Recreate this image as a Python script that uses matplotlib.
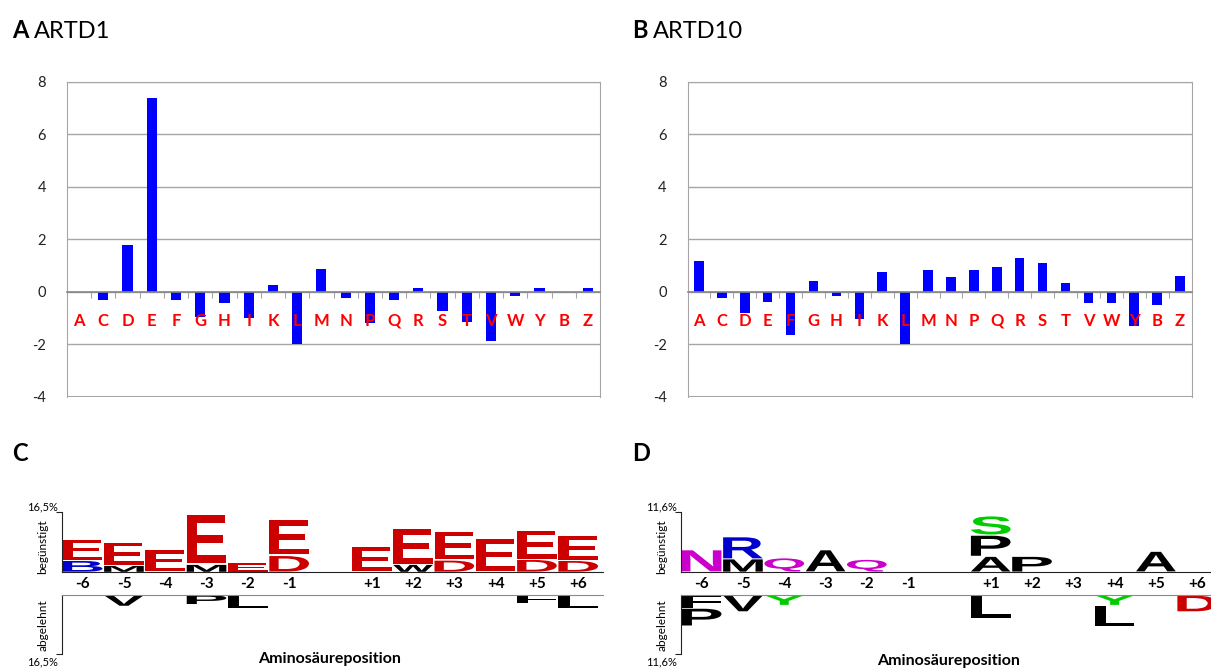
import numpy as np
import matplotlib
matplotlib.use('Agg')
import matplotlib.pyplot as plt
import matplotlib.transforms as mtransforms
from matplotlib.textpath import TextPath
from matplotlib.patches import PathPatch
from matplotlib.font_manager import FontProperties

plt.rcParams['font.family'] = ['Lato', 'DejaVu Sans']
plt.rcParams['axes.unicode_minus'] = False

# === Data ===
aa = ['A', 'C', 'D', 'E', 'F', 'G', 'H', 'I', 'K', 'L', 'M',
      'N', 'P', 'Q', 'R', 'S', 'T', 'V', 'W', 'Y', 'B', 'Z']
artd1 = [0, -0.29, 1.77, 7.37, -0.29, -0.95, -0.43, -1.0, 0.28, -2.0, 0.86,
         -0.25, -1.18, -0.29, 0.14, -0.74, -1.14, -1.87, -0.17, 0.14, 0, 0.14]
artd10 = [1.17, -0.23, -0.8, -0.38, -1.65, 0.41, -0.15, -1.03, 0.75, -2.0, 0.83,
          0.56, 0.85, 0.94, 1.28, 1.09, 0.33, -0.42, -0.42, -1.3, -0.5, 0.6]

positions = ['-6', '-5', '-4', '-3', '-2', '-1', '+1', '+2', '+3', '+4', '+5', '+6']

# logo stacks per position: (letter, height in %) from the line outwards
c_up = [[('B', 3.1), ('E', 5.9)], [('M', 1.7), ('E', 6.5)], [('E', 6.1)],
        [('M', 2.0), ('E', 14.0)], [('E', 2.5)], [('D', 4.5), ('E', 10.0)],
        [('E', 7.0)], [('W', 2.0), ('E', 10.0)], [('D', 3.2), ('E', 8.0)],
        [('E', 9.3)], [('D', 3.4), ('E', 8.1)], [('D', 3.1), ('E', 7.0)]]
c_down = [[], [('V', 3.1)], [], [('P', 2.6)], [('L', 3.7)], [],
          [], [], [], [], [('F', 2.3)], [('L', 3.7)]]
c_max = 16.5

d_up = [[('N', 4.3)], [('M', 2.5), ('R', 4.3)], [('Q', 2.7)], [('A', 4.3)],
        [('Q', 2.4)], [], [('A', 3.0), ('P', 4.1), ('S', 3.7)], [('P', 3.0)],
        [], [], [('A', 4.0)], []]
d_down = [[('F', 2.6), ('P', 3.5)], [('V', 3.3)], [('Y', 2.0)], [], [], [],
          [('L', 4.6)], [], [], [('Y', 2.0), ('L', 4.2)], [], [('D', 3.3)]]
d_max = 11.6

letter_colors = {'D': '#cc0000', 'E': '#cc0000', 'R': '#0000cc', 'B': '#0000cc',
                 'K': '#0000cc', 'H': '#0000cc', 'N': '#cc00cc', 'Q': '#cc00cc',
                 'S': '#00cc00', 'Y': '#00cc00', 'G': '#00cc00', 'T': '#00cc00'}

# === Figure ===
W, H = 1211, 669
fig = plt.figure(figsize=(W / 100, H / 100), dpi=100)


def px_rect(x, y_top, w, h):
    return [x / W, 1 - (y_top + h) / H, w / W, h / H]


def ftext(x, y, s, **kw):
    return fig.text(x / W, 1 - y / H, s, **kw)


def bar_panel(left, width, values):
    ax = fig.add_axes(px_rect(left, 81.7, width, 315.3))
    x = np.arange(len(aa))
    ax.bar(x, values, width=0.42, color='#0000ff', zorder=2)
    ax.set_xlim(-0.5, len(aa) - 0.5)
    ax.set_ylim(-4, 8)
    ax.set_yticks(np.arange(-4, 9, 2))
    ax.grid(axis='y', color='#a6a6a6', lw=1, zorder=0)
    ax.axhline(-4, color='#a6a6a6', lw=1.5, zorder=1)
    for s in ax.spines.values():
        s.set_color('#a6a6a6')
    ax.spines['bottom'].set_position(('data', 0))
    ax.spines['bottom'].set_color('#868686')
    ax.spines['bottom'].set_linewidth(1.2)
    ax.set_xticks(np.arange(0.5, len(aa) - 1, 1))
    ax.tick_params(axis='x', length=4, color='#a6a6a6', labelbottom=False)
    ax.tick_params(axis='y', length=0, pad=15, labelsize=10.5, labelcolor='#222222')
    for i, a in enumerate(aa):
        ax.text(i, -1.1, a, color='#ff0000', fontweight='bold', fontsize=12,
                ha='center', va='center', zorder=3)
    return ax


fp = FontProperties(family='Liberation Sans', weight='bold')


def draw_letter(ax, ch, xc, y0, w, h, color):
    tp = TextPath((0, 0), ch, size=1, prop=fp)
    bb = tp.get_extents()
    t = (mtransforms.Affine2D()
         .translate(-bb.x0, -bb.y0)
         .scale(w / bb.width, h / bb.height)
         .translate(xc - w / 2, y0))
    ax.add_patch(PathPatch(t.transform_path(tp), fc=color, ec='none', lw=0))


def logo_panel(left, up, down, ymax, xlabel_x, xlabel_y, side_x):
    xs = [0, 1, 2, 3, 4, 5, 7, 8, 9, 10, 11, 12]
    ax_up = fig.add_axes(px_rect(left, 511.7, 541, 60.3))
    ax_dn = fig.add_axes(px_rect(left, 595, 541, 59))
    pct = ('%.1f%%' % ymax).replace('.', ',')
    for ax, lims in ((ax_up, (0, ymax)), (ax_dn, (-ymax, 0))):
        ax.set_xlim(-0.5, 12.6)
        ax.set_ylim(*lims)
        ax.set_xticks([])
        ax.spines['right'].set_visible(False)
        ax.spines['left'].set_color('#222222')
        ax.tick_params(axis='y', length=4, color='#222222', labelleft=False)
        ax.patch.set_alpha(0)
    ax_up.set_yticks([ymax])
    ax_dn.set_yticks([-ymax])
    ax_up.spines['top'].set_visible(False)
    ax_up.spines['bottom'].set_color('#222222')
    ax_dn.spines['bottom'].set_visible(False)
    ax_dn.spines['top'].set_color('#8a8a8a')

    for x, stack in zip(xs, up):
        cum = 0
        for ch, h in stack:
            draw_letter(ax_up, ch, x, cum + h * 0.03, 0.96, h * 0.94,
                        letter_colors.get(ch, 'black'))
            cum += h
    for x, stack in zip(xs, down):
        cum = 0
        for ch, h in stack:
            draw_letter(ax_dn, ch, x, -(cum + h) + h * 0.03, 0.96, h * 0.94,
                        letter_colors.get(ch, 'black'))
            cum += h

    tr = ax_up.get_xaxis_transform()
    for x, p in zip(xs, positions):
        ax_up.text(x, -12.5 / 60.3, p, transform=tr, ha='center', va='center',
                   fontweight='bold', fontsize=11, clip_on=False)

    ftext(left - 4, 506.5, pct, ha='right', va='center', fontsize=8)
    ftext(left - 4, 661.5, pct, ha='right', va='center', fontsize=8)
    ftext(side_x, 547, 'begünstigt', rotation=90, ha='center', va='center', fontsize=8.5)
    ftext(side_x, 625, 'abgelehnt', rotation=90, ha='center', va='center', fontsize=8.5)
    ftext(xlabel_x, xlabel_y, 'Aminosäureposition', ha='center', va='center',
          fontweight='bold', fontsize=11.5)


bar_panel(67, 533, artd1)
bar_panel(687.5, 504, artd10)
logo_panel(62, c_up, c_down, c_max, 330, 659, 43)
logo_panel(681, d_up, d_down, d_max, 949, 661, 662)


def panel_title(x, y, letter, text=None):
    t = ftext(x, y, letter, fontweight='bold', fontsize=17, va='baseline', ha='left')
    if text:
        fig.add_artist(plt.Annotation(text, xy=(1, 0), xycoords=t,
                                      xytext=(4, 0), textcoords='offset points',
                                      va='bottom', ha='left', fontsize=17))


panel_title(12, 38, 'A', 'ARTD1')
panel_title(632, 38, 'B', 'ARTD10')
panel_title(12, 461, 'C')
panel_title(632, 461, 'D')

fig.savefig('out.png', dpi=100)
